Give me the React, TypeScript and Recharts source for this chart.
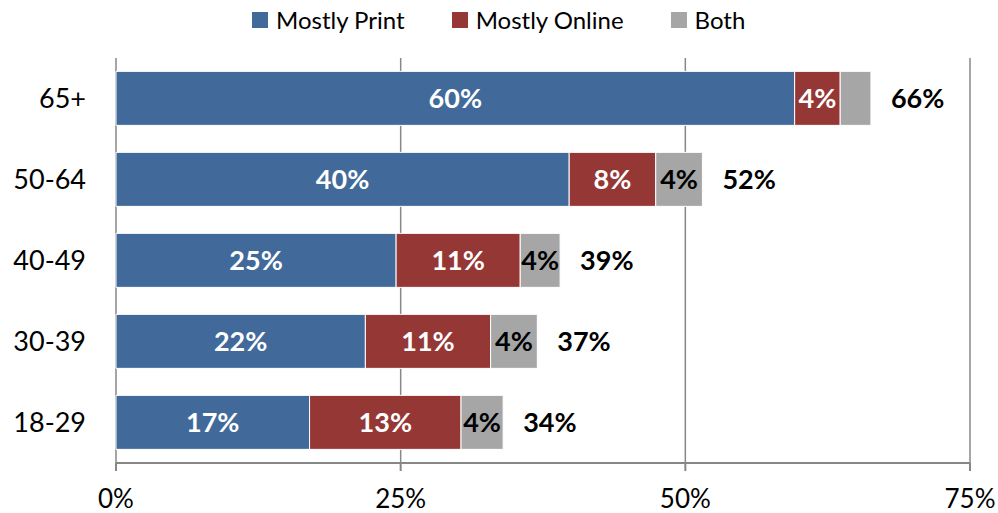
import { BarChart, Bar, XAxis, YAxis, CartesianGrid, LabelList } from "recharts";

// age groups, top to bottom
const ages = ["65+", "50-64", "40-49", "30-39", "18-29"];

// bar lengths (% of readers)
const mostlyPrint = [59.6, 39.8, 24.6, 21.9, 17.0];
const mostlyOnline = [4.0, 7.6, 10.9, 11.0, 13.3];
const both = [2.7, 4.1, 3.5, 4.1, 3.7];

// printed labels
const printLabels = ["60%", "40%", "25%", "22%", "17%"];
const onlineLabels = ["4%", "8%", "11%", "11%", "13%"];
const bothLabels = ["", "4%", "4%", "4%", "4%"];
const totalLabels = ["66%", "52%", "39%", "37%", "34%"];

const xTicks = [0, 25, 50, 75];
const boundaryTicks = [0, 1, 2, 3, 4, 5];

const data = ages.map((age, i) => ({
  age,
  print: mostlyPrint[i],
  online: mostlyOnline[i],
  both: both[i],
  printLabel: printLabels[i],
  onlineLabel: onlineLabels[i],
  bothLabel: bothLabels[i],
  totalLabel: totalLabels[i],
}));

const BLUE = "#416A9B";
const RED = "#953735";
const GRAY = "#A6A6A6";
const AXIS = "#878787";
const FONT = "Lato, 'Open Sans', sans-serif";

const legendItems = [
  { name: "Mostly Print", color: BLUE },
  { name: "Mostly Online", color: RED },
  { name: "Both", color: GRAY },
];

export default function App() {
  return (
    <div style={{ position: "relative", width: 998, height: 513, background: "white", fontFamily: FONT }}>
      <style>{`body { margin: 0; }`}</style>
      <div
        style={{
          position: "absolute",
          top: 4,
          left: 252,
          display: "flex",
          alignItems: "center",
          fontSize: 24,
          color: "#000",
          lineHeight: "32px",
        }}
      >
        {legendItems.map((item) => (
          <div key={item.name} style={{ display: "flex", alignItems: "center", marginRight: 47 }}>
            <span style={{ width: 16, height: 16, background: item.color, display: "inline-block", marginRight: 8 }} />
            <span>{item.name}</span>
          </div>
        ))}
      </div>
      <BarChart
        width={998}
        height={513}
        data={data}
        layout="vertical"
        barCategoryGap="16.5%"
        margin={{ top: 58, right: 28, left: 0, bottom: 20 }}
        style={{ fontFamily: FONT }}
      >
        <CartesianGrid horizontal={false} vertical={true} stroke={AXIS} strokeWidth={1.5} />
        <XAxis
          type="number"
          domain={[0, 75]}
          ticks={xTicks}
          tickFormatter={(v) => `${v}%`}
          tick={{ fill: "#000", fontSize: 26 }}
          axisLine={{ stroke: AXIS, strokeWidth: 2 }}
          tickLine={{ stroke: AXIS, strokeWidth: 2 }}
          tickSize={8}
          tickMargin={19}
          interval={0}
        />
        <YAxis
          yAxisId="bounds"
          type="number"
          domain={[0, 5]}
          ticks={boundaryTicks}
          reversed
          width={0}
          tick={false}
          tickSize={10}
          axisLine={{ stroke: AXIS, strokeWidth: 2 }}
          tickLine={{ stroke: AXIS, strokeWidth: 2 }}
          allowDataOverflow
        />
        <YAxis
          type="category"
          dataKey="age"
          width={116}
          tick={{ fill: "#000", fontSize: 27 }}
          tickLine={false}
          axisLine={false}
          tickSize={20}
          tickMargin={10}
        />
        <Bar dataKey="print" stackId="a" fill={BLUE} stroke="#fff" strokeWidth={1} isAnimationActive={false}>
          <LabelList dataKey="printLabel" position="center" fill="#fff" fontSize={27} fontWeight="bold" />
        </Bar>
        <Bar dataKey="online" stackId="a" fill={RED} stroke="#fff" strokeWidth={1} isAnimationActive={false}>
          <LabelList dataKey="onlineLabel" position="center" fill="#fff" fontSize={27} fontWeight="bold" />
        </Bar>
        <Bar dataKey="both" stackId="a" fill={GRAY} stroke="#fff" strokeWidth={1} isAnimationActive={false}>
          <LabelList dataKey="bothLabel" position="center" fill="#000" fontSize={27} fontWeight="bold" />
          <LabelList dataKey="totalLabel" position="right" offset={20} fill="#000" fontSize={27} fontWeight="bold" />
        </Bar>
      </BarChart>
    </div>
  );
}
